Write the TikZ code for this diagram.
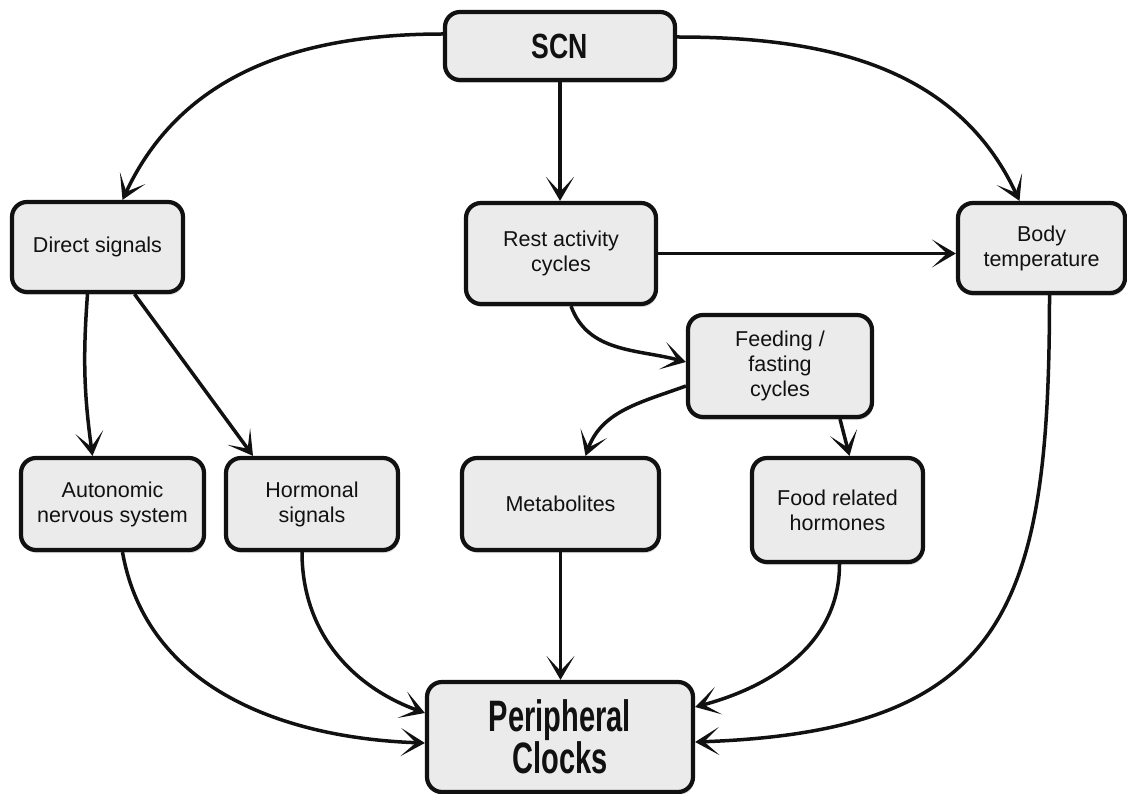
\documentclass[tikz,border=0pt]{standalone}
\usepackage{fontspec}
\setmainfont{Liberation Sans}
\newfontfamily\condA{Liberation Sans}[FakeStretch=0.76]
\newfontfamily\condB{Liberation Sans}[FakeStretch=0.66]
\usetikzlibrary{arrows.meta,shadows}
\definecolor{boxfill}{HTML}{EBEBEB}
\definecolor{ink}{HTML}{111111}
\tikzset{
  box/.style={draw=ink, line width=4.2pt, rounded corners=15pt, fill=boxfill,
    align=center, inner sep=0pt, text=ink,
    font=\fontsize{21.5}{25}\selectfont,
    drop shadow={shadow xshift=1pt, shadow yshift=-3pt, opacity=0.3}},
  arr/.style={draw=ink, line width=3.5pt,
    -{Stealth[length=24pt,width=28pt,inset=15pt]}}
}
\begin{document}
\begin{tikzpicture}[x=1pt,y=1pt]
\useasboundingbox (0,0) rectangle (1127,-794);
\fill[white] (0,0) rectangle (1127,-794);

\node[box, minimum width=230pt, minimum height=68pt, font=\condA\bfseries\fontsize{35}{36}\selectfont] (scn) at (560,-46) {SCN};
\node[box, minimum width=171pt, minimum height=90pt] (direct) at (97.5,-247) {Direct signals};
\node[box, minimum width=190pt, minimum height=101pt] (rest) at (561,-253.5) {Rest activity\\cycles};
\node[box, minimum width=167pt, minimum height=90pt] (body) at (1041.5,-248) {Body\\temperature};
\node[box, minimum width=184pt, minimum height=102pt] (feed) at (780,-366) {Feeding /\\fasting\\cycles};
\node[box, minimum width=183pt, minimum height=92pt] (auto) at (112.5,-504) {Autonomic\\nervous system};
\node[box, minimum width=172pt, minimum height=92pt] (horm) at (312,-504) {Hormonal\\signals};
\node[box, minimum width=197pt, minimum height=92pt] (metab) at (560.5,-504) {Metabolites};
\node[box, minimum width=171pt, minimum height=104pt] (food) at (837.5,-510) {Food related\\hormones};
\node[box, minimum width=266pt, minimum height=110pt, font=\condB\bfseries\fontsize{44}{40}\selectfont] (periph) at (560,-737) {Peripheral\\Clocks};

\draw[arr] ([yshift=12pt]scn.west) to[out=180,in=65] ([xshift=25pt]direct.north);
\draw[arr] ([yshift=9pt]scn.east) to[out=0,in=115] ([xshift=-22pt]body.north);
\draw[arr] (scn.south) -- (scn.south |- rest.north);
\draw[arr] (rest.east) -- (rest.east -| body.west);
\draw[arr] ([xshift=10pt]rest.south) to[out=-70,in=165] ([yshift=4pt]feed.west);
\draw[arr] ([yshift=-20pt]feed.west) to[out=200,in=70] ([xshift=25pt]metab.north);
\draw[arr] ([xshift=60pt]feed.south) -- ([xshift=12pt]food.north);
\draw[arr] ([xshift=-10pt]direct.south) to[bend right=6] ([xshift=-20pt]auto.north);
\draw[arr] ([xshift=37pt]direct.south) -- ([xshift=-59pt]horm.north);
\draw[arr] ([xshift=10pt]auto.south) to[out=-80,in=178] ([yshift=-6pt]periph.west);
\draw[arr] ([xshift=-10pt]horm.south) to[out=-90,in=160] ([yshift=24pt]periph.west);
\draw[arr] (metab.south) -- (metab.south |- periph.north);
\draw[arr] ([xshift=2pt]food.south) to[out=-90,in=15] ([yshift=30pt]periph.east);
\draw[arr] ([xshift=8pt]body.south) to[out=-90,in=2,looseness=1.4] ([yshift=-5pt]periph.east);
\end{tikzpicture}
\end{document}
